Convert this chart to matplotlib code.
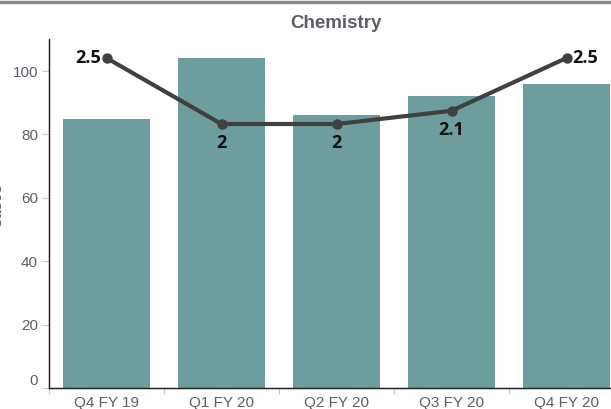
import matplotlib
matplotlib.use("Agg")
import matplotlib.pyplot as plt
from matplotlib.lines import Line2D

categories = ["Q4 FY 19", "Q1 FY 20", "Q2 FY 20", "Q3 FY 20", "Q4 FY 20"]
cases = [85, 104, 86, 92, 96]
ratio = [2.5, 2.0, 2.0, 2.1, 2.5]
ratio_labels = ["2.5", "2", "2", "2.1", "2.5"]
yticks = [0, 20, 40, 60, 80, 100]

W, H = 611, 409
fig = plt.figure(figsize=(W / 100, H / 100), dpi=100)
plt.rcParams['font.family'] = ['Liberation Sans', 'DejaVu Sans']

left = 49 / W
bottom = (H - 388) / H
top = (H - 39) / H
ax = fig.add_axes([left, bottom, 575 / W, top - bottom])

x = list(range(len(categories)))
ax.bar(x, cases, width=0.76, color='#6d9e9d', zorder=2)
ax.set_xlim(-0.5, len(categories) - 0.5)
ax.set_ylim(0, 110.1)

gray_txt = '#5a5f66'
ax.set_yticks(yticks)
ax.set_yticklabels([str(v) for v in yticks], fontsize=11, color=gray_txt)
ax.get_yticklabels()[0].set_va('bottom')
ax.set_xticks(x)
ax.set_xticklabels(categories, fontsize=11, color=gray_txt)
ax.tick_params(axis='x', length=0, pad=6)
ax.tick_params(axis='y', length=5, color='#c8c8c8', width=0.8, pad=3)
ax.set_xticks([i - 0.5 for i in range(len(categories) + 1)], minor=True)
ax.tick_params(axis='x', which='minor', length=4, color='#c8c8c8', width=0.8)

for s in ['top', 'right']:
    ax.spines[s].set_visible(False)
for s in ['left', 'bottom']:
    ax.spines[s].set_linestyle((0, (0.7, 0.7)))
    ax.spines[s].set_color('#222222')
    ax.spines[s].set_linewidth(1.0)

ax2 = ax.twinx()
ax2.set_ylim(0, 2.644)
ax2.set_axis_off()
ax2.plot(x, ratio, color='#404040', lw=3.0, marker='o', markersize=6.5, zorder=5,
         solid_capstyle='round')

lab_kw = dict(fontsize=13, fontweight='bold', color='#111111', family=['Open Sans', 'DejaVu Sans'])
offsets = [(-4, 0, 'right', 'center'), (0, -14, 'center', 'center'), (0, -14, 'center', 'center'),
           (0, -14, 'center', 'center'), (4, 0, 'left', 'center')]
for xi, yi, t, (dx, dy, ha, va) in zip(x, ratio, ratio_labels, offsets):
    ax2.annotate(t, (xi, yi), xytext=(dx, dy), textcoords='offset points', ha=ha, va=va, **lab_kw)

fig.text(336 / W, 1 - 24 / H, "Chemistry", ha='center', va='center', fontsize=13.5,
         fontweight='bold', color='#5a5f66')
fig.text(4 / W, 1 - 205 / H, "Cases", ha='right', va='center', rotation=90, fontsize=11,
         fontweight='bold', color='#5a5f66')

fig.add_artist(Line2D([0, 1], [1 - 1.5 / H, 1 - 1.5 / H], transform=fig.transFigure,
                      color='#8a8a8a', lw=2.5))

fig.savefig("out.png", dpi=100)
